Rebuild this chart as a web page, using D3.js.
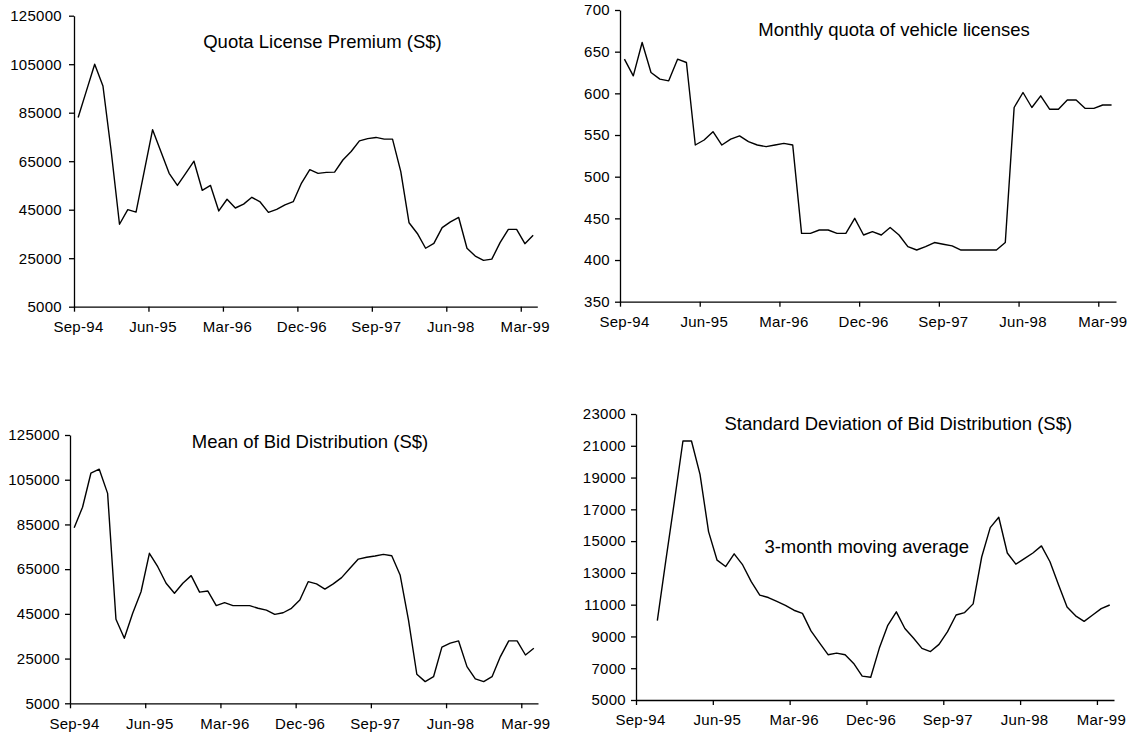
<!DOCTYPE html>
<html>
<head>
<meta charset="utf-8">
<script src="https://cdn.jsdelivr.net/npm/d3@7"></script>
<style>
  html, body { margin: 0; padding: 0; background: #fff; }
  svg { display: block; font-family: "Liberation Sans", Arial, sans-serif; }
</style>
</head>
<body>
<svg id="chart" width="1137" height="740"></svg>
<script>
// Monthly categories, Sep-94 .. Apr-99
const months = ["Sep-94","Oct-94","Nov-94","Dec-94","Jan-95","Feb-95","Mar-95","Apr-95","May-95","Jun-95",
  "Jul-95","Aug-95","Sep-95","Oct-95","Nov-95","Dec-95","Jan-96","Feb-96","Mar-96","Apr-96","May-96","Jun-96",
  "Jul-96","Aug-96","Sep-96","Oct-96","Nov-96","Dec-96","Jan-97","Feb-97","Mar-97","Apr-97","May-97","Jun-97",
  "Jul-97","Aug-97","Sep-97","Oct-97","Nov-97","Dec-97","Jan-98","Feb-98","Mar-98","Apr-98","May-98","Jun-98",
  "Jul-98","Aug-98","Sep-98","Oct-98","Nov-98","Dec-98","Jan-99","Feb-99","Mar-99","Apr-99"];

const xTickLabels = ["Sep-94","Jun-95","Mar-96","Dec-96","Sep-97","Jun-98","Mar-99"];

const premium = [83000,94000,105000,96000,69000,39000,45000,44000,61000,78000,
  69000,60000,55000,60000,65000,53000,55000,44500,49300,45700,47300,50100,
  48200,43900,45100,47000,48300,56000,61500,60000,60400,60500,65500,69000,
  73400,74300,74800,74100,74100,60700,39600,35200,29100,31100,37600,40000,
  41800,29100,25900,24100,24600,31400,36900,36900,31000,34500];

const quota = [641,621,661,625,617,615,641,637,538,544,
  554,538,545,549,542,538,536,538,540,538,432,432,
  436,436,432,432,450,430,434,430,439,430,416,412,
  416,421,419,417,412,412,412,412,412,421,583,601,
  583,597,581,581,592,592,582,582,586,586];

const meanBid = [83500,92700,107900,109700,98900,42600,34100,45300,54900,72100,
  66100,58700,54200,58700,62100,54700,55200,48700,50000,48700,48700,48700,
  47500,46700,44800,45500,47500,51200,59400,58400,56100,58400,61200,65400,
  69500,70300,70900,71600,71000,62400,42300,18000,14700,16900,30100,31900,
  32900,21400,15900,14700,16900,25900,32900,32900,26600,29600];

// 3-month moving average: first value in Nov-94
const stdDev = [null,null,10000,13800,17500,21300,21300,19200,15600,13800,
  13400,14200,13500,12450,11600,11450,11200,10950,10650,10450,9350,8600,
  7850,7950,7850,7300,6500,6430,8250,9700,10550,9500,8900,8250,
  8050,8500,9300,10350,10500,11050,14000,15850,16500,14250,13550,13900,
  14250,14700,13700,12250,10850,10300,9950,10350,10750,10980];

const premiumTicks = [5000,25000,45000,65000,85000,105000,125000];
const quotaTicks = [350,400,450,500,550,600,650,700];
const meanTicks = [5000,25000,45000,65000,85000,105000,125000];
const sdTicks = [5000,7000,9000,11000,13000,15000,17000,19000,21000,23000];

const svg = d3.select("#chart");

function panel(cfg) {
  const g = svg.append("g");
  const x = d3.scaleLinear().domain([0, months.length]).range([cfg.x0, cfg.x1]);
  const y = d3.scaleLinear().domain([cfg.ticks[0], cfg.ticks[cfg.ticks.length-1]]).range([cfg.yb, cfg.yt]);

  const xAxis = d3.axisBottom(x)
    .tickValues(xTickLabels.map(l => months.indexOf(l)))
    .tickFormat(i => months[i])
    .tickSize(5).tickSizeOuter(0).tickPadding(6);
  const gx = g.append("g").attr("transform", `translate(0,${cfg.yb})`).call(xAxis);
  gx.selectAll("text").attr("x", 4).attr("dy", "0.95em");

  const yAxis = d3.axisLeft(y).tickValues(cfg.ticks).tickFormat(d3.format("d"))
    .tickSize(5).tickSizeOuter(0).tickPadding(cfg.pad);
  const gy = g.append("g").attr("transform", `translate(${cfg.x0},0)`).call(yAxis);

  [gx, gy].forEach(a => {
    a.select(".domain").attr("stroke", "#000").attr("stroke-width", 1.3);
    a.selectAll(".tick line").attr("stroke", "#000").attr("stroke-width", 1.3);
    a.selectAll("text").attr("fill", "#000").style("font-size", "15px")
      .style("font-family", "'Liberation Sans', Arial, sans-serif").style("letter-spacing", "0.3px");
  });

  const line = d3.line()
    .defined(d => d != null)
    .x((d, i) => x(i + 0.5))
    .y(d => y(d));
  g.append("path").datum(cfg.data)
    .attr("fill", "none").attr("stroke", "#000").attr("stroke-width", 1.4)
    .attr("stroke-linejoin", "round")
    .attr("d", line);

  cfg.labels.forEach(l => {
    g.append("text").attr("x", l.x).attr("y", l.y).attr("text-anchor", "middle")
      .attr("fill", "#000").style("font-size", "18.5px").text(l.text);
  });
}

panel({x0: 74, x1: 537.3, yt: 15.7, yb: 306.7, ticks: premiumTicks, data: premium, pad: 7,
  labels: [{text: "Quota License Premium (S$)", x: 322.5, y: 48}]});
panel({x0: 620, x1: 1116, yt: 10, yb: 301.7, ticks: quotaTicks, data: quota, pad: 5,
  labels: [{text: "Monthly quota of vehicle licenses", x: 894, y: 36}]});
panel({x0: 70, x1: 538, yt: 435, yb: 703.3, ticks: meanTicks, data: meanBid, pad: 5,
  labels: [{text: "Mean of Bid Distribution (S$)", x: 310, y: 448}]});
panel({x0: 636, x1: 1114, yt: 414, yb: 700, ticks: sdTicks, data: stdDev, pad: 5,
  labels: [{text: "Standard Deviation of Bid Distribution (S$)", x: 898.3, y: 430},
           {text: "3-month moving average", x: 866.7, y: 553}]});
</script>
</body>
</html>
